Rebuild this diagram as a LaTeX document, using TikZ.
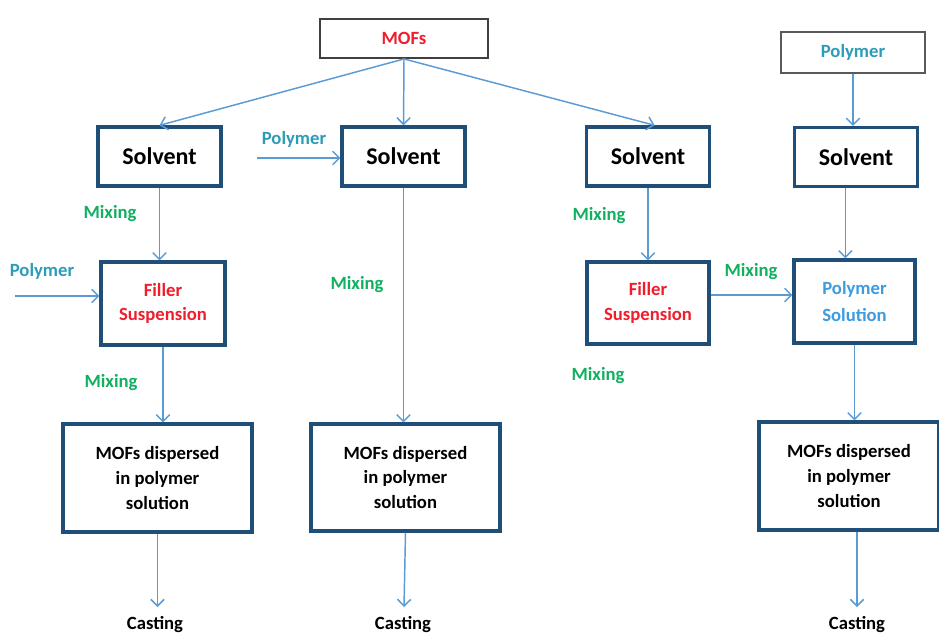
\documentclass[tikz,border=0pt]{standalone}
\usepackage{fontspec}
\setmainfont{Carlito}
\usetikzlibrary{arrows.meta}
\definecolor{navy}{HTML}{1F4E79}
\definecolor{arrowblue}{HTML}{5B9BD5}
\definecolor{mred}{HTML}{F01E2C}
\definecolor{tealp}{HTML}{2C9CB8}
\definecolor{mgreen}{HTML}{10B060}
\definecolor{lblue}{HTML}{3D9BE0}
\begin{document}
\begin{tikzpicture}[x=0.75pt,y=-0.75pt,
  box/.style={draw=navy,line width=2.5pt,fill=white,inner sep=0pt,align=center,
    font=\fontsize{14}{18.5}\selectfont\bfseries},
  solv/.style={box,font=\fontsize{18}{20}\selectfont\bfseries},
  thinbox/.style={draw=black!75,line width=1.4pt,fill=white,inner sep=0pt,
    font=\fontsize{14}{17}\selectfont\bfseries},
  arr/.style={draw=arrowblue,line width=1.1pt,-{Straight Barb[length=5pt,width=10pt]}},
  lab/.style={inner sep=0pt,font=\fontsize{14}{17}\selectfont\bfseries},
  mix/.style={lab,text=mgreen},
  poly/.style={lab,text=tealp}]
\useasboundingbox (0,0) rectangle (939,637);

% top boxes
\node[thinbox,text=mred,minimum width=126pt,minimum height=29.25pt] (mofs) at (404,38.5) {MOFs};
\node[thinbox,draw=black!65,line width=1.1pt,text=tealp,minimum width=108pt,minimum height=30.75pt] (ptop) at (853,52.5) {Polymer};

% solvent boxes
\node[solv,minimum width=92.25pt,minimum height=44.25pt] (s1) at (159.5,156.5) {Solvent};
\node[solv,minimum width=92.25pt,minimum height=44.25pt] (s2) at (403.5,156.5) {Solvent};
\node[solv,minimum width=92.25pt,minimum height=44.25pt] (s3) at (648,156.5) {Solvent};
\node[solv,minimum width=92.25pt,minimum height=44.25pt] (s4) at (856,157) {Solvent};

% middle boxes
\node[box,text=mred,minimum width=93pt,minimum height=62.25pt] (f1) at (163,303.5) {Filler\\Suspension};
\node[box,text=mred,minimum width=91.5pt,minimum height=61.5pt] (f3) at (648,303) {Filler\\Suspension};
\node[box,text=lblue,font=\fontsize{14}{20}\selectfont\bfseries,minimum width=90.75pt,minimum height=62.25pt] (p4) at (854.5,301.5) {Polymer\\Solution};

% dispersed boxes
\node[box,minimum width=141.75pt,minimum height=81pt] (m1) at (157.5,478) {MOFs dispersed\\in polymer\\solution};
\node[box,minimum width=141.75pt,minimum height=80.25pt] (m2) at (405.5,477.5) {MOFs dispersed\\in polymer\\solution};
\node[box,minimum width=135pt,minimum height=81pt] (m4) at (849,476) {MOFs dispersed\\in polymer\\solution};

% labels
\node[poly] (lp2) at (294,139) {Polymer};
\node[poly] (lp1) at (42,271) {Polymer};
\node[mix] (mx1) at (110,214) {Mixing};
\node[mix] (mx2) at (111,383) {Mixing};
\node[mix] (mx3) at (357,285) {Mixing};
\node[mix] (mx4) at (599,216) {Mixing};
\node[mix] (mx5) at (751,272) {Mixing};
\node[mix] (mx6) at (598,376) {Mixing};
\node[lab,anchor=base] (c1) at (155,629) {Casting};
\node[lab,anchor=base] (c2) at (403,629) {Casting};
\node[lab,anchor=base] (c4) at (857,629) {Casting};

% helper coordinates
\coordinate (pa1) at (15,296);
\coordinate (pa2) at (257,158);
\coordinate (y295) at (0,295);
\coordinate (e1) at (157.5,607);
\coordinate (e2) at (404,607);
\coordinate (e4) at (857,607);

% arrows from MOFs
\draw[arr] (mofs.south) -- (s1.north);
\draw[arr] (mofs.south) -- (s2.north);
\draw[arr] (mofs.south) -- ([xshift=5pt]s3.north);
\draw[arr] (ptop.south) -- (ptop.south |- s4.north);

% column 1
\draw[arr] (s1.south) -- (s1.south |- f1.north);
\draw[arr] (pa1) -- (f1.west |- pa1);
\draw[arr] (f1.south) -- (f1.south |- m1.north);
\draw[arr] (m1.south) -- (e1);

% column 2
\draw[arr] (pa2) -- (s2.west |- pa2);
\draw[arr] (s2.south) -- (s2.south |- m2.north);
\draw[arr] (m2.south) -- (e2);

% column 3/4
\draw[arr] (s3.south) -- (s3.south |- f3.north);
\draw[arr] (f3.east |- y295) -- (p4.west |- y295);
\draw[arr] ([xshift=-8pt]s4.south) -- ([xshift=-8pt]s4.south |- p4.north);
\draw[arr] (p4.south) -- (p4.south |- m4.north);
\draw[arr] (e4 |- m4.south) -- (e4);
\end{tikzpicture}
\end{document}
